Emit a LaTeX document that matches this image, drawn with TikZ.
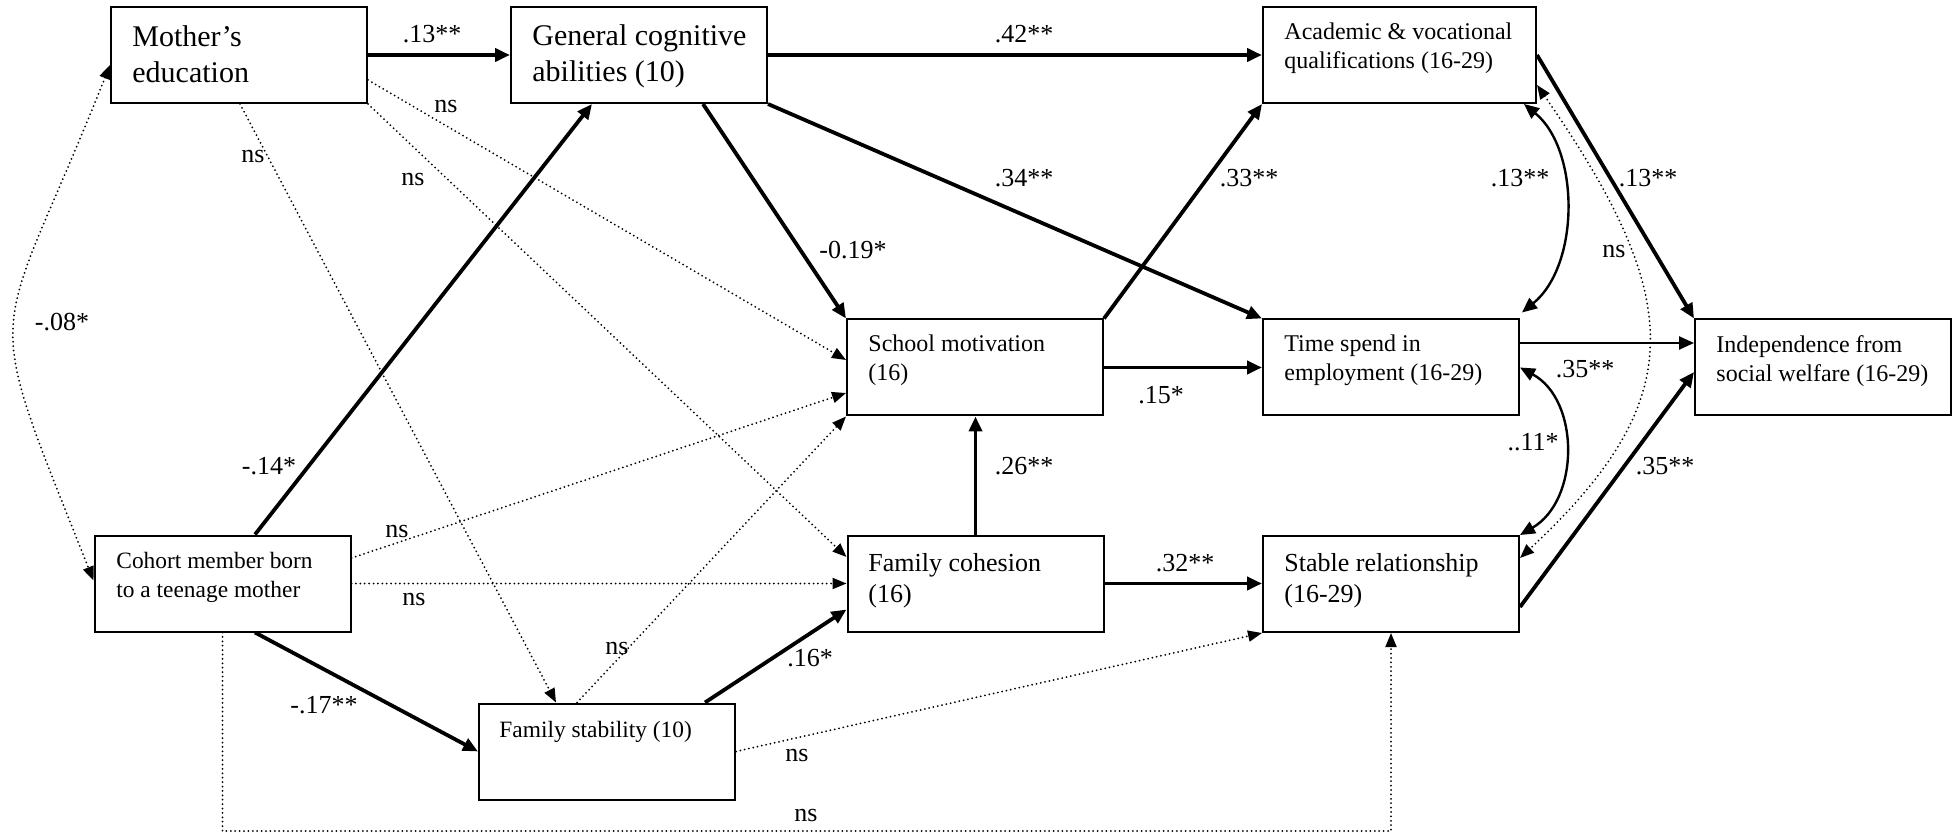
\documentclass[tikz,border=0pt]{standalone}
\usepackage{fontspec}
\setmainfont{Liberation Serif}
\usetikzlibrary{arrows.meta,calc}
\newcommand\twolines[2]{\vtop{\hbox{#1}\hbox{#2}}}
\tikzset{
  bx/.style={draw, line width=1pt, inner sep=0pt, minimum width=128pt, minimum height=48pt},
  txt/.style={anchor=base west, inner sep=0pt},
  bigf/.style={font=\fontsize{15}{18}\selectfont},
  midf/.style={font=\fontsize{12}{14.5}\selectfont},
  smf/.style={font=\fontsize{11.7}{14.5}\selectfont},
  lrgf/.style={font=\fontsize{13}{15.5}\selectfont},
  lab/.style={inner sep=0pt, font=\fontsize{13}{15}\selectfont},
  thk/.style={line width=1.9pt, -{Triangle[length=7.5pt,width=6.5pt]}},
  thn/.style={line width=1.2pt, -{Triangle[length=7.5pt,width=6.5pt]}},
  thntwo/.style={line width=1.2pt, {Triangle[length=7.5pt,width=6.5pt]}-{Triangle[length=7.5pt,width=6.5pt]}},
  dotl/.style={line width=1pt, line cap=round, dash pattern=on 0pt off 2.2pt, -{Triangle[length=7pt,width=5.5pt]}},
  dottwo/.style={line width=1pt, line cap=round, dash pattern=on 0pt off 2.2pt, {Triangle[length=7pt,width=5.5pt]}-{Triangle[length=7pt,width=5.5pt]}},
}
\begin{document}
\begin{tikzpicture}[x=0.5pt,y=-0.5pt]
\useasboundingbox (0,0) rectangle (1957,833);
% boxes
\node[bx] (M) at (239,55) {};
\node[bx] (G) at (639,55) {};
\node[bx, minimum width=136.5pt] (A) at (1399.5,55) {};
\node[bx] (S) at (975,367.5) {};
\node[bx] (T) at (1391,367.5) {};
\node[bx] (I) at (1823,367.5) {};
\node[bx] (C) at (222.5,583.5) {};
\node[bx] (F) at (975.5,583.5) {};
\node[bx] (R) at (1391,584) {};
\node[bx] (Fs) at (607,751.5) {};
% box texts
\node[txt,bigf] (Mt) at (132,47) {\twolines{Mother’s}{education}};
\node[txt,bigf] (Gt) at (532,46) {\twolines{General cognitive}{abilities (10)}};
\node[txt,midf] (At) at (1284,40) {\twolines{Academic \& vocational}{qualifications (16-29)}};
\node[txt,midf] (St) at (868,352) {\twolines{School motivation}{(16)}};
\node[txt,midf] (Tt) at (1284,352) {\twolines{Time spend in}{employment (16-29)}};
\node[txt,midf] (It) at (1716,353) {\twolines{Independence from}{social welfare (16-29)}};
\node[txt,smf] (Ct) at (116,568) {\twolines{Cohort member born}{to a teenage mother}};
\node[txt,lrgf] (Ft) at (868,571) {\twolines{Family cohesion}{(16)}};
\node[txt,lrgf] (Rt) at (1284,571) {\twolines{Stable relationship}{(16-29)}};
\node[txt,smf] (Fst) at (499,737) {Family stability (10)};
% thick paths
\draw[thk] (M.east) -- (G.west);
\draw[thk] (G.east) -- (A.west);
\draw[thk] ($(G.south)+(64,0)$) -- (S.north west);
\draw[thk] (G.south east) -- (T.north west);
\draw[thk] (S.north east) -- (A.south west);
\draw[thk] (S.east) -- (T.west);
\draw[thk] (F.north) -- (F.north |- S.south);
\draw[thk] (F.east) -- (F.east -| R.west);
\draw[thk] ($(Fs.north east)+(-31,0)$) -- ($(F.south west)+(0,-23)$);
\draw[thk] ($(C.north)+(32.5,0)$) -- ($(G.south)+(-47,0)$);
\draw[thk] ($(C.south)+(32.5,0)$) -- (Fs.west);
\draw[thk] (A.east) -- (I.north west);
\draw[thn] ($(T.east)+(0,-24.5)$) -- ($(I.west)+(0,-24.5)$);
\draw[thk] ($(R.east)+(0,23)$) -- ($(I.west)+(0,4.5)$);
% correlations
\draw[thntwo] ($(A.south east)+(-13,0)$) .. controls (1580,150) and (1580,265) .. ($(T.north east)+(2,-6)$);
\draw[thntwo] (T.east) .. controls (1580,400) and (1580,500) .. (R.north east);
\draw[dottwo] ($(A.east)+(0,30)$) .. controls (1686,300) and (1690,400) .. ($(R.east)+(0,-26)$);
\draw[dottwo] ($(M.west)+(0,10)$) .. controls (-6,357) and (-23,288) .. ($(C.west)+(0,-3)$);
% dotted paths
\draw[dotl] ($(M.east)+(0,25)$) -- ($(S.west)+(0,-7.5)$);
\draw[dotl] (M.south east) -- ($(F.west)+(0,-26.5)$);
\draw[dotl] ($(M.south)+(1,0)$) -- ($(Fs.north)+(-51,0)$);
\draw[dotl] ($(C.east)+(0,-25.5)$) -- ($(S.west)+(0,25.5)$);
\draw[dotl] (C.east) -- (F.west);
\draw[dotl] ($(Fs.north)+(-30,0)$) -- (S.south west);
\draw[dotl] (Fs.east) -- (R.south west);
\coordinate (Cb) at ($(C.south)+(0,198.5)$);
\draw[dotl] (C.south) -- (Cb) -| (R.south);
% labels
\node[lab] (l1) at (432,34) {.13**};
\node[lab] (l2) at (1024,34) {.42**};
\node[lab] (l3) at (446,107) {ns};
\node[lab] (l4) at (253,157) {ns};
\node[lab] (l5) at (413,180) {ns};
\node[lab] (l6) at (62,322) {-.08*};
\node[lab] (l7) at (853,250) {-0.19*};
\node[lab] (l8) at (1024,178) {.34**};
\node[lab] (l9) at (1249,178) {.33**};
\node[lab] (l10) at (1520,178) {.13**};
\node[lab] (l11) at (1648,178) {.13**};
\node[lab] (l12) at (1614,252) {ns};
\node[lab] (l13) at (1161,395) {.15*};
\node[lab] (l14) at (1585,369) {.35**};
\node[lab] (l15) at (1533,442) {..11*};
\node[lab] (l16) at (1024,466) {.26**};
\node[lab] (l17) at (269,466) {-.14*};
\node[lab] (l18) at (1665,466) {.35**};
\node[lab] (l19) at (397,531) {ns};
\node[lab] (l20) at (1185,563) {.32**};
\node[lab] (l21) at (414,599) {ns};
\node[lab] (l22) at (617,648) {ns};
\node[lab] (l23) at (810,658) {.16*};
\node[lab] (l24) at (324,705) {-.17**};
\node[lab] (l25) at (797,755) {ns};
\node[lab] (l26) at (806,815) {ns};
\end{tikzpicture}
\end{document}
